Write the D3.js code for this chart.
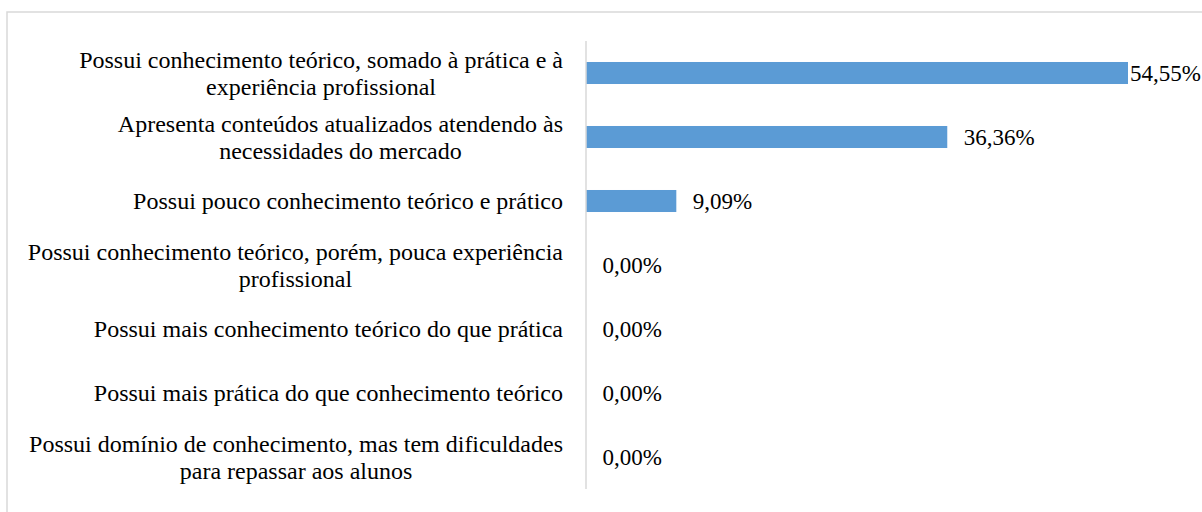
<!DOCTYPE html>
<html>
<head>
<meta charset="utf-8">
<script src="https://cdn.jsdelivr.net/npm/d3@7"></script>
<style>
  html, body { margin: 0; padding: 0; background: #fff; overflow: hidden; }
</style>
</head>
<body>
<svg id="chart" width="1202" height="512"></svg>
<script>
// categories, top to bottom (line breaks as in the original)
var categories = [
    "Possui conhecimento teórico, somado à prática e à\nexperiência profissional",
    "Apresenta conteúdos atualizados atendendo às\nnecessidades do mercado",
    "Possui pouco conhecimento teórico e prático",
    "Possui conhecimento teórico, porém, pouca experiência\nprofissional",
    "Possui mais conhecimento teórico do que prática",
    "Possui mais prática do que conhecimento teórico",
    "Possui domínio de conhecimento, mas tem dificuldades\npara repassar aos alunos"
];
var percentages = [54.55, 36.36, 9.09, 0, 0, 0, 0];

var svg = d3.select('#chart');
var W = 1202, H = 512;
var axisX = 586;
var FONT = "'Liberation Serif', 'Times New Roman', serif";
var catSize = 24;
var valSize = 23;
var lineH = 27;

// outer frame (runs off the right and bottom edges)
svg.append('rect')
    .attr('x', 7).attr('y', 12)
    .attr('width', W + 20).attr('height', H + 20)
    .attr('fill', 'none')
    .attr('stroke', '#d9d9d9')
    .attr('stroke-width', 1.5);

var x = d3.scaleLinear().domain([0, 54.55]).range([axisX, 1128]);
var y = d3.scaleBand().domain(d3.range(categories.length)).range([41, 489]).paddingInner(0.656).paddingOuter(0.328);

svg.append('g').selectAll('rect.bar').data(percentages).enter().append('rect')
    .attr('class', 'bar')
    .attr('x', x(0))
    .attr('y', function (d, i) { return y(i); })
    .attr('width', function (d) { return x(d) - x(0); })
    .attr('height', y.bandwidth())
    .attr('fill', '#5b9bd5');

// vertical category axis line
var yAxis = d3.axisLeft(y).tickSize(0).tickFormat('');
svg.append('g')
    .attr('transform', 'translate(' + axisX + ',0)')
    .call(yAxis)
    .call(function (s) { s.select('.domain').attr('stroke', '#d9d9d9').attr('stroke-width', 1.5).attr('d', 'M0,41V489'); });

function textWidth(str) {
    var s = svg.append('text').style('font-family', FONT).style('font-size', catSize + 'px').text(str);
    var w = s.node().getComputedTextLength();
    s.remove();
    return w;
}

// category labels
svg.append('g').selectAll('text').data(categories).enter().append('text')
    .attr('text-anchor', 'middle')
    .style('font-family', FONT)
    .style('font-size', catSize + 'px')
    .attr('fill', '#000')
    .each(function (d, i) {
        var lines = d.split('\n');
        var cy = y(i) + y.bandwidth() / 2;
        var t = d3.select(this);
        var blockW = d3.max(lines, textWidth);
        var cx = 563 - blockW / 2;
        lines.forEach(function (l, j) {
            t.append('tspan')
                .attr('x', cx)
                .attr('y', cy + (j - (lines.length - 1) / 2) * lineH)
                .attr('dy', '0.35em')
                .text(l);
        });
    });

// value labels
var fmt = function (v) { return v.toFixed(2).replace('.', ',') + '%'; };
svg.append('g').selectAll('text').data(percentages).enter().append('text')
    .style('font-family', FONT)
    .style('font-size', valSize + 'px')
    .attr('dy', '0.35em')
    .attr('y', function (d, i) { return y(i) + y.bandwidth() / 2; })
    .text(fmt)
    .attr('x', function (d) {
        var w = this.getComputedTextLength();
        return Math.min(x(d) + 16.5, 1201 - w);
    });
</script>
</body>
</html>
